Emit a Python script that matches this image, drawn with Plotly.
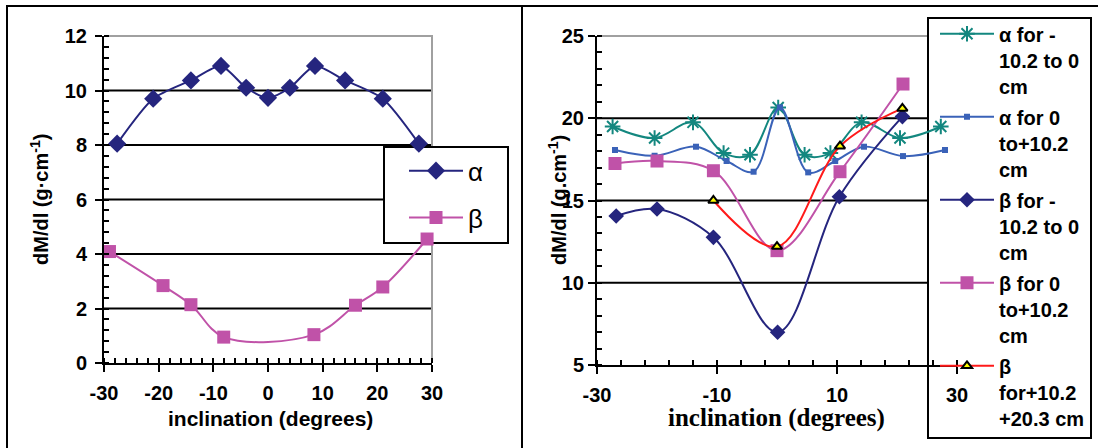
import plotly.graph_objects as go

# ---------------- data ----------------
# left panel
left_alpha_x = [-27.6, -21.0, -14.1, -8.6, -4.0, 0.0, 4.0, 8.6, 14.1, 21.0, 27.6]
left_alpha_y = [8.05, 9.70, 10.37, 10.90, 10.10, 9.73, 10.10, 10.90, 10.37, 9.70, 8.05]
left_beta_x = [-29.0, -19.2, -14.1, -8.1, 8.4, 16.0, 21.0, 29.1]
left_beta_y = [4.09, 2.84, 2.14, 0.95, 1.04, 2.12, 2.79, 4.55]
left_names = ["α", "β"]

# right panel
r_alpha1_x = [-27.4, -20.4, -14.0, -8.9, -4.5, 0.2, 4.6, 8.9, 14.1, 20.5, 27.3]
r_alpha1_y = [19.5, 18.8, 19.75, 17.88, 17.78, 20.65, 17.78, 17.88, 19.75, 18.8, 19.5]
r_alpha2_x = [-27.0, -20.4, -13.5, -8.4, -3.9, 0.5, 5.2, 9.7, 14.5, 21.0, 28.0]
r_alpha2_y = [18.07, 17.72, 18.27, 17.40, 16.75, 20.66, 16.71, 17.40, 18.27, 17.70, 18.07]
r_beta1_x = [-26.8, -20.0, -10.6, 0.1, 10.4, 20.9]
r_beta1_y = [14.06, 14.48, 12.76, 6.99, 15.23, 20.10]
r_beta2_x = [-27.0, -20.0, -10.6, 0.0, 10.5, 21.0]
r_beta2_y = [17.25, 17.40, 16.81, 11.95, 16.75, 22.08]
r_beta3_x = [-10.6, 0.0, 10.5, 20.9]
r_beta3_y = [15.0, 12.2, 18.3, 20.6]
right_names = [
    "α for -<br>10.2 to 0<br>cm",
    "α for 0<br>to+10.2<br>cm",
    "β for -<br>10.2 to 0<br>cm",
    "β for 0<br>to+10.2<br>cm",
    "β<br>for+10.2<br>+20.3 cm",
]

# axis ticks / labels
left_x_ticks = [-30, -20, -10, 0, 10, 20, 30]
left_y_ticks = [0, 2, 4, 6, 8, 10, 12]
right_x_ticks = [-30, -10, 10, 30]
right_y_ticks = [5, 10, 15, 20, 25]
left_x_title = "inclination (degrees)"
left_y_title = "dM/dl (g·cm<sup>-1</sup>)"
right_x_title = "inclination (degrees)"
right_y_title = "dM/dl (g.cm<sup>-1</sup>)"

# ---------------- layout constants (pixels) ----------------
W, H = 1098, 448
def fx(p):
    return p / W
def fy(p):
    return 1 - p / H

LP = dict(l=104, r=432, t=36, b=363)      # left plot area
RP = dict(l=597, r=957, t=36, b=365)      # right plot area
LL = dict(l=384, t=147, r=508, b=243)     # left legend box
RL = dict(l=928, t=18, r=1091, b=438)     # right legend box

NAVY = "#25257E"
MAGENTA = "#C052A8"
TEAL = "#13877F"
BLUE = "#3A62B8"
RED = "#FF1A1A"
YELLOW = "#FFFF00"
GRAY = "#A0A0A0"

SANS = "Liberation Sans"
SERIF = "Liberation Serif"
TICKFONT = dict(family=SANS, size=20, color="black", weight="bold")

fig = go.Figure()

# left traces
fig.add_trace(go.Scatter(
    x=left_alpha_x, y=left_alpha_y, name=left_names[0], mode="lines+markers",
    line=dict(color=NAVY, width=2, shape="spline", smoothing=0.7),
    marker=dict(symbol="diamond", size=14, color=NAVY),
    xaxis="x", yaxis="y", legend="legend", legendgroup="la", cliponaxis=False))
fig.add_trace(go.Scatter(
    x=left_beta_x, y=left_beta_y, name=left_names[1], mode="lines+markers",
    line=dict(color=MAGENTA, width=2, shape="spline", smoothing=1.0),
    marker=dict(symbol="square", size=13, color=MAGENTA),
    xaxis="x", yaxis="y", legend="legend", legendgroup="lb", cliponaxis=False))

# right traces
fig.add_trace(go.Scatter(
    x=r_alpha1_x, y=r_alpha1_y, name=right_names[0], mode="lines+markers",
    line=dict(color=TEAL, width=2, shape="spline", smoothing=1.0),
    marker=dict(symbol="asterisk-open", size=13, line=dict(color=TEAL, width=2)),
    xaxis="x2", yaxis="y2", legend="legend2", legendgroup="r1", cliponaxis=False))
fig.add_trace(go.Scatter(
    x=r_alpha2_x, y=r_alpha2_y, name=right_names[1], mode="lines+markers",
    line=dict(color=BLUE, width=2, shape="spline", smoothing=1.0),
    marker=dict(symbol="square", size=6, color=BLUE),
    xaxis="x2", yaxis="y2", legend="legend2", legendgroup="r2", cliponaxis=False))
fig.add_trace(go.Scatter(
    x=r_beta1_x, y=r_beta1_y, name=right_names[2], mode="lines+markers",
    line=dict(color=NAVY, width=2, shape="spline", smoothing=1.0),
    marker=dict(symbol="diamond", size=12, color=NAVY),
    xaxis="x2", yaxis="y2", legend="legend2", legendgroup="r3", cliponaxis=False))
fig.add_trace(go.Scatter(
    x=r_beta2_x, y=r_beta2_y, name=right_names[3], mode="lines+markers",
    line=dict(color=MAGENTA, width=2, shape="spline", smoothing=1.0),
    marker=dict(symbol="square", size=13, color=MAGENTA),
    xaxis="x2", yaxis="y2", legend="legend2", legendgroup="r4", cliponaxis=False))
fig.add_trace(go.Scatter(
    x=r_beta3_x, y=r_beta3_y, name=right_names[4], mode="lines+markers",
    line=dict(color=RED, width=2, shape="spline", smoothing=1.0),
    marker=dict(symbol="triangle-up", size=9, color=YELLOW, line=dict(color="black", width=2)),
    xaxis="x2", yaxis="y2", legend="legend2", legendgroup="r5", cliponaxis=False))

axis_common = dict(showgrid=False, zeroline=False, showline=True, linecolor="black",
                   linewidth=2, ticks="outside", ticklen=7, tickwidth=2,
                   tickcolor="black", tickfont=TICKFONT, fixedrange=True)

def minor(d):
    return dict(dtick=d, ticks="inside", ticklen=5, tickwidth=2,
                tickcolor="black", showgrid=False)

fig.update_layout(
    width=W, height=H,
    margin=dict(l=0, r=0, t=0, b=0, pad=0, autoexpand=False),
    paper_bgcolor="white", plot_bgcolor="rgba(0,0,0,0)",
    showlegend=True,
    xaxis=dict(domain=[fx(LP["l"]), fx(LP["r"])], range=[-30, 30], anchor="y",
               tickvals=left_x_ticks, ticktext=[str(v) for v in left_x_ticks],
               minor=dict(minor(2), tick0=-30), ticklabelstandoff=4, **axis_common),
    yaxis=dict(domain=[fy(LP["b"]), fy(LP["t"])], range=[0, 12], anchor="x",
               tickvals=left_y_ticks, ticktext=[str(v) for v in left_y_ticks],
               minor=dict(minor(0.4), tick0=0), ticklabelstandoff=4, **axis_common),
    xaxis2=dict(domain=[fx(RP["l"]), fx(RP["r"])], range=[-30, 30], anchor="y2",
                tickvals=right_x_ticks, ticktext=[str(v) for v in right_x_ticks],
                minor=dict(minor(4), tick0=-30), ticklabelstandoff=4, **axis_common),
    yaxis2=dict(domain=[fy(RP["b"]), fy(RP["t"])], range=[5, 25], anchor="x2",
                tickvals=right_y_ticks, ticktext=[str(v) for v in right_y_ticks],
                minor=dict(minor(1), tick0=5), ticklabelstandoff=0, **axis_common),
    legend=dict(x=fx(404), y=fy(147.3), xanchor="left", yanchor="top",
                bgcolor="rgba(0,0,0,0)", borderwidth=0, itemwidth=54,
                font=dict(family=SANS, size=26, color="black"),
                traceorder="grouped", tracegroupgap=10, valign="top"),
    legend2=dict(x=fx(935), y=fy(14.3), xanchor="left", yanchor="top",
                 bgcolor="rgba(0,0,0,0)", borderwidth=0, itemwidth=54,
                 font=dict(family=SANS, size=20, color="black", weight="bold"),
                 traceorder="grouped", tracegroupgap=2, valign="top"),
)

shapes = []

# outer frame lines
shapes.append(dict(type="line", xref="paper", yref="paper", x0=fx(6), x1=1, y0=fy(6), y1=fy(6),
                   line=dict(color="black", width=2), layer="below"))
shapes.append(dict(type="line", xref="paper", yref="paper", x0=fx(7), x1=fx(7), y0=fy(6), y1=0,
                   line=dict(color="black", width=2), layer="below"))
shapes.append(dict(type="line", xref="paper", yref="paper", x0=fx(522), x1=fx(522), y0=fy(6), y1=0,
                   line=dict(color="black", width=2), layer="below"))

def value_to_px(v, lo, hi, plot):
    return plot["b"] - (v - lo) / (hi - lo) * (plot["b"] - plot["t"])

def add_grid(ticks, lo, hi, plot, leg, yref):
    for v in ticks:
        if v == lo or v == hi:
            continue
        ypx = value_to_px(v, lo, hi, plot)
        xend = leg["l"] if leg["t"] <= ypx <= leg["b"] else plot["r"]
        shapes.append(dict(type="line", xref="paper", yref=yref, x0=fx(plot["l"]), x1=fx(xend),
                           y0=v, y1=v, line=dict(color="black", width=2), layer="below"))

add_grid(left_y_ticks, 0, 12, LP, LL, "y")
add_grid(right_y_ticks, 5, 25, RP, RL, "y2")

# plot-area borders (gray), hidden behind legend boxes
shapes.append(dict(type="line", xref="paper", yref="paper", x0=fx(LP["l"]), x1=fx(LP["r"] + 1),
                   y0=fy(LP["t"]), y1=fy(LP["t"]), line=dict(color=GRAY, width=2), layer="below"))
shapes.append(dict(type="line", xref="paper", yref="paper", x0=fx(LP["r"]), x1=fx(LP["r"]),
                   y0=fy(LP["t"]), y1=fy(LP["b"]), line=dict(color=GRAY, width=2), layer="below"))
shapes.append(dict(type="line", xref="paper", yref="paper", x0=fx(RP["l"]), x1=fx(RL["l"]),
                   y0=fy(RP["t"]), y1=fy(RP["t"]), line=dict(color=GRAY, width=2), layer="below"))

# legend boxes (below the traces, above the grid)
for box in (LL, RL):
    shapes.append(dict(type="rect", xref="paper", yref="paper",
                       x0=fx(box["l"]), x1=fx(box["r"]), y0=fy(box["b"]), y1=fy(box["t"]),
                       fillcolor="white", line=dict(color="black", width=2), layer="below"))

fig.update_layout(shapes=shapes)

# axis titles
TITLE_SANS = dict(family=SANS, size=20, color="black", weight="bold")
fig.update_layout(annotations=[
    dict(text=left_x_title, xref="paper", yref="paper", x=fx(270), y=fy(418),
         showarrow=False, font=dict(family=SANS, size=21, color="black", weight="bold"),
         xanchor="center", yanchor="middle"),
    dict(text=left_y_title, xref="paper", yref="paper", x=fx(39), y=fy(200),
         showarrow=False, font=TITLE_SANS, textangle=-90, xanchor="center", yanchor="middle"),
    dict(text=right_x_title, xref="paper", yref="paper", x=fx(776), y=fy(418),
         showarrow=False, font=dict(family=SERIF, size=25, color="black", weight="bold"),
         xanchor="center", yanchor="middle"),
    dict(text=right_y_title, xref="paper", yref="paper", x=fx(557), y=fy(200),
         showarrow=False, font=TITLE_SANS, textangle=-90, xanchor="center", yanchor="middle"),
])

fig.write_html("out.html", config=dict(displayModeBar=False, staticPlot=True),
               post_script="document.body.style.margin='0px';document.body.style.overflow='hidden';")
